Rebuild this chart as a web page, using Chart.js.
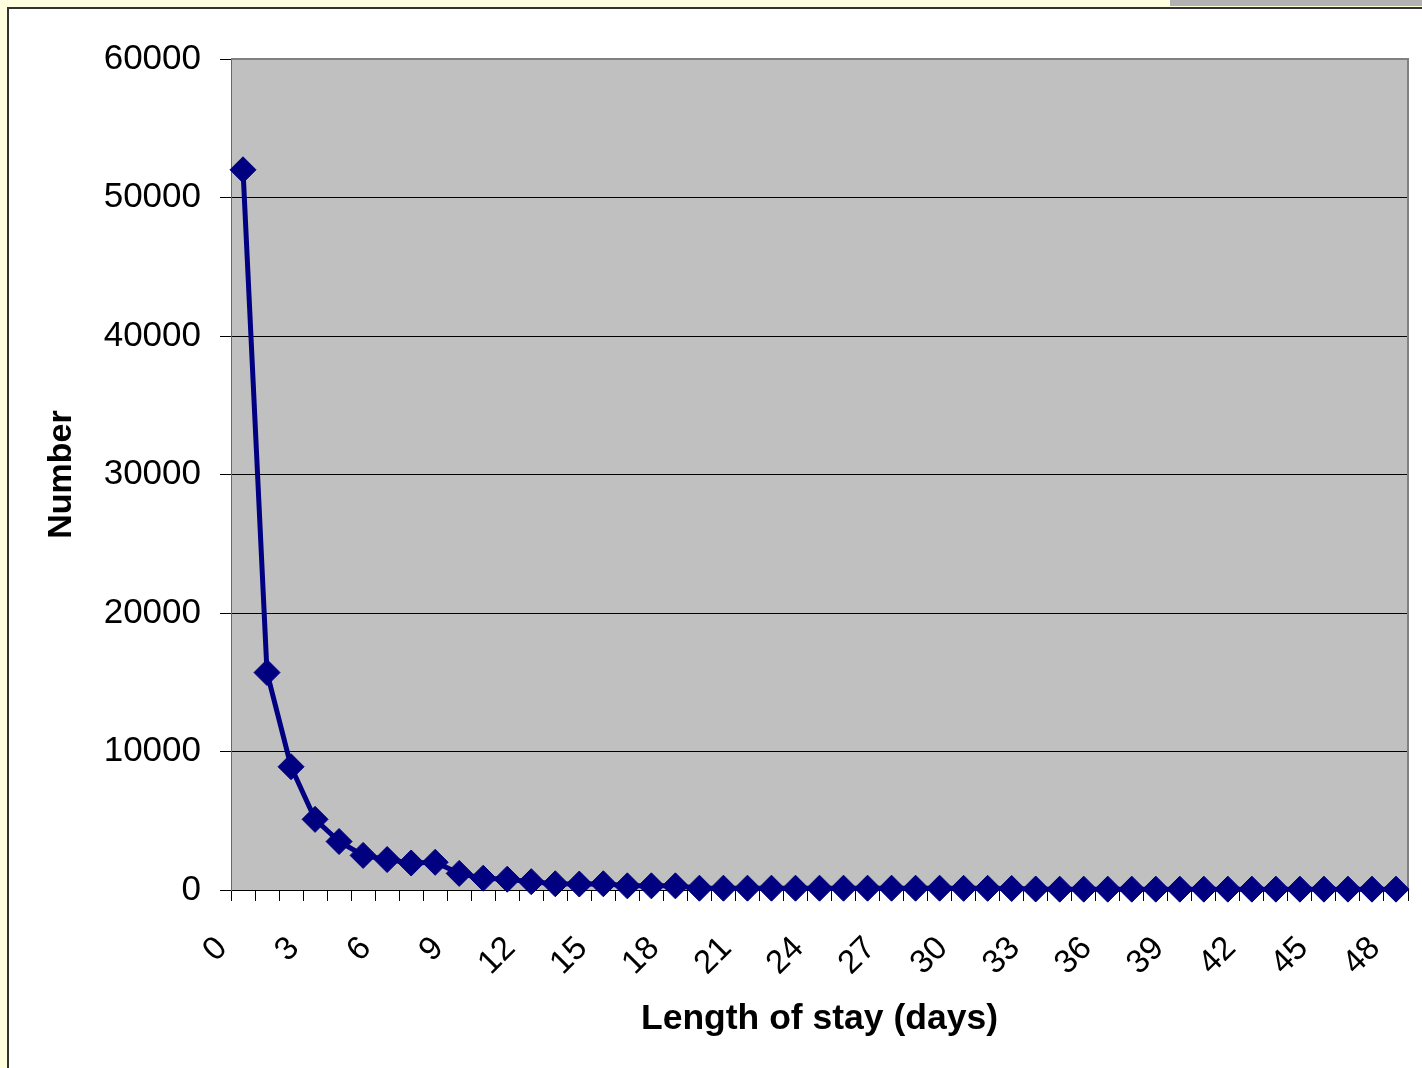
<!DOCTYPE html>
<html>
<head>
<meta charset="utf-8">
<script src="https://cdn.jsdelivr.net/npm/chart.js@4.4.1/dist/chart.umd.min.js"></script>
<style>
    html, body { margin: 0; padding: 0; background: #ffffe0; }
    #wrap { width: 1422px; height: 1068px; }
</style>
</head>
<body>
<div id="wrap"><canvas id="stayChart"></canvas></div>
<script>
// Length of stay in days (category axis 0..48)
var days = [];
for (var d = 0; d <= 48; d++) days.push(String(d));

// Number of stays per day
var stayCounts = [
    52000, 15700, 8900, 5100, 3500, 2500, 2200, 1950, 2000, 1200,
    850, 780, 600, 450, 430, 450, 300, 300, 300, 130,
    130, 130, 130, 130, 130, 130, 130, 130, 130, 130,
    120, 120, 110, 70, 60, 60, 60, 60, 60, 60,
    60, 60, 60, 60, 60, 60, 60, 60, 60
];

var yTicks = [0, 10000, 20000, 30000, 40000, 50000, 60000];

// Page frame and grey plot background
var backdrop = {
    id: 'backdrop',
    beforeDraw: function(chart) {
        var c = chart.ctx, a = chart.chartArea;
        c.save();
        c.fillStyle = '#ffffe0';
        c.fillRect(0, 0, chart.width, chart.height);
        c.fillStyle = '#b2b2b2';
        c.fillRect(1170, 0, chart.width - 1170, 6);
        c.fillStyle = '#ffffff';
        c.fillRect(7, 8, chart.width - 7, chart.height - 8);
        c.strokeStyle = '#333333';
        c.lineWidth = 2;
        c.beginPath();
        c.moveTo(8, chart.height);
        c.lineTo(8, 8);
        c.lineTo(chart.width, 8);
        c.stroke();
        c.fillStyle = '#c0c0c0';
        c.fillRect(a.left, a.top, a.right - a.left, a.bottom - a.top);
        c.restore();
    },
    beforeDatasetsDraw: function(chart) {
        var c = chart.ctx, a = chart.chartArea;
        c.save();
        c.strokeStyle = '#808080';
        c.lineWidth = 2;
        c.beginPath();
        c.moveTo(a.left, a.top);
        c.lineTo(a.right, a.top);
        c.lineTo(a.right, a.bottom);
        c.stroke();
        c.restore();
    }
};

Chart.defaults.font.family = '"Liberation Sans", Arial, sans-serif';
Chart.defaults.color = '#000000';

var ctx = document.getElementById('stayChart').getContext('2d');
var stayChart = new Chart(ctx, {
    type: 'line',
    data: {
        labels: days,
        datasets: [{
            label: 'Number',
            data: stayCounts,
            borderColor: '#000080',
            backgroundColor: '#000080',
            borderWidth: 5,
            tension: 0,
            pointStyle: 'rectRot',
            pointRadius: 13,
            pointHoverRadius: 13,
            pointBorderWidth: 1,
            pointBackgroundColor: '#000080',
            pointBorderColor: '#000080',
            clip: false
        }]
    },
    options: {
        responsive: true,
        maintainAspectRatio: false,
        animation: false,
        events: [],
        layout: { padding: { top: 59, right: 12, bottom: 0, left: 0 } },
        plugins: {
            legend: { display: false },
            tooltip: { enabled: false }
        },
        scales: {
            x: {
                offset: true,
                afterFit: function(scale) {
                    scale.height = scale.chart.height - 890;
                    scale.paddingLeft = 0;
                    scale.paddingRight = 0;
                },
                grid: {
                    offset: true,
                    drawOnChartArea: false,
                    drawTicks: true,
                    tickLength: 11,
                    color: '#000000'
                },
                border: { color: '#000000', width: 1 },
                ticks: {
                    autoSkip: false,
                    maxRotation: 45,
                    minRotation: 45,
                    labelOffset: -21,
                    padding: 28,
                    font: { size: 33 },
                    callback: function(value, index) {
                        return index % 3 === 0 ? this.getLabelForValue(value) : '';
                    }
                },
                title: {
                    display: true,
                    text: 'Length of stay (days)',
                    font: { size: 35.5, weight: 'bold' },
                    padding: { top: 27, bottom: 27 }
                }
            },
            y: {
                min: 0,
                max: 60000,
                afterFit: function(scale) {
                    scale.width = 231;
                    scale.paddingTop = 0;
                    scale.paddingBottom = 0;
                },
                afterBuildTicks: function(scale) {
                    scale.ticks = yTicks.map(function(v) { return { value: v }; });
                },
                grid: {
                    color: '#000000',
                    lineWidth: 1,
                    tickLength: 11
                },
                border: { color: '#666666', width: 1 },
                ticks: {
                    padding: 19,
                    font: { size: 35 },
                    callback: function(value) { return String(value); }
                },
                title: {
                    display: true,
                    text: 'Number',
                    font: { size: 34, weight: 'bold' },
                    padding: { top: 41, bottom: 41 }
                }
            }
        }
    },
    plugins: [backdrop]
});
</script>
</body>
</html>
